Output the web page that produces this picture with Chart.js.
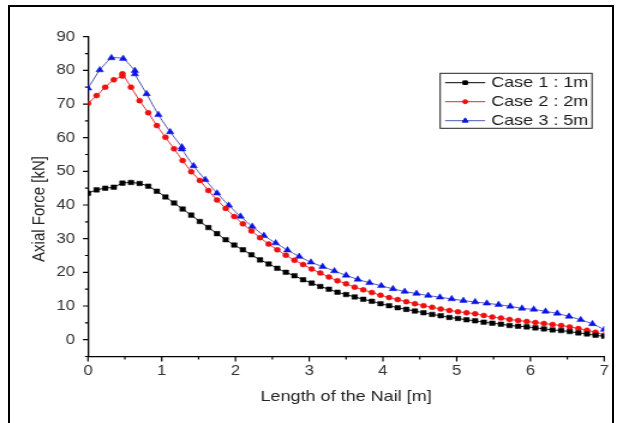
<!DOCTYPE html>
<html>
<head>
<meta charset="utf-8">
<title>Axial Force along the Nail</title>
<script src="https://cdn.jsdelivr.net/npm/chart.js@4.4.0/dist/chart.umd.min.js"></script>
<style>
  html, body { margin: 0; padding: 0; background: #fff; overflow: hidden; }
  /* the plot is laid out narrow and widened, so text and markers come out broad */
  #stage { position: absolute; left: 0; top: 0; width: 519px; height: 423px; transform: scaleX(1.2004); transform-origin: 0 0; }
  #frame { position: absolute; left: 8px; top: 5px; width: 602px; height: 440px; border: 2px solid #000; }
</style>
</head>
<body>
<div id="stage"><canvas id="chart"></canvas></div>
<div id="frame"></div>
<script>
const STRETCH = 1.2004;
const FONT = '"Liberation Sans", Arial, sans-serif';

// node positions along the nail [m]
const xFine = [0, 0.117, 0.233, 0.35, 0.467, 0.583, 0.7, 0.817, 0.933, 1.05, 1.167, 1.283, 1.4, 1.517, 1.633,
  1.75, 1.867, 1.983, 2.1, 2.217, 2.333, 2.45, 2.567, 2.683, 2.8, 2.917, 3.033, 3.15, 3.267, 3.383, 3.5,
  3.617, 3.733, 3.85, 3.967, 4.083, 4.2, 4.317, 4.433, 4.55, 4.667, 4.783, 4.9, 5.017, 5.133, 5.25, 5.367,
  5.483, 5.6, 5.717, 5.833, 5.95, 6.067, 6.183, 6.3, 6.417, 6.533, 6.65, 6.767, 6.883, 7];
// same grid, with the jump at 0.467 m
const xFineJump = [0, 0.117, 0.233, 0.35, 0.467, 0.467, 0.583, 0.7, 0.817, 0.933, 1.05, 1.167, 1.283, 1.4, 1.517, 1.633,
  1.75, 1.867, 1.983, 2.1, 2.217, 2.333, 2.45, 2.567, 2.683, 2.8, 2.917, 3.033, 3.15, 3.267, 3.383, 3.5,
  3.617, 3.733, 3.85, 3.967, 4.083, 4.2, 4.317, 4.433, 4.55, 4.667, 4.783, 4.9, 5.017, 5.133, 5.25, 5.367,
  5.483, 5.6, 5.717, 5.833, 5.95, 6.067, 6.183, 6.3, 6.417, 6.533, 6.65, 6.767, 6.883, 7];
// coarser grid for case 3, jumps at 0.636 m and 1.273 m
const xCoarse = [0, 0.159, 0.318, 0.477, 0.636, 0.636, 0.795, 0.955, 1.114, 1.273, 1.273, 1.432, 1.591, 1.75,
  1.909, 2.068, 2.227, 2.386, 2.545, 2.705, 2.864, 3.023, 3.182, 3.341, 3.5, 3.659, 3.818, 3.977, 4.136,
  4.295, 4.455, 4.614, 4.773, 4.932, 5.091, 5.25, 5.409, 5.568, 5.727, 5.886, 6.045, 6.205, 6.364, 6.523,
  6.682, 6.841, 7];

const seriesLabels = ['Case 1 : 1m', 'Case 2 : 2m', 'Case 3 : 5m'];

// axial force [kN]
const case1 = [43.5, 44.5, 45.0, 45.3, 46.5, 46.7, 46.4, 45.6, 44.1, 42.4, 40.6, 38.8, 37.0, 35.1, 33.3,
  31.5, 29.7, 28.1, 26.7, 25.2, 23.7, 22.5, 21.2, 20.0, 19.0, 17.8, 16.8, 15.8, 15.0, 14.1, 13.4,
  12.7, 12.0, 11.4, 10.7, 10.1, 9.5, 9.0, 8.5, 8.0, 7.5, 7.1, 6.6, 6.3, 5.9, 5.6, 5.2,
  4.9, 4.6, 4.2, 4.0, 3.8, 3.5, 3.2, 2.9, 2.7, 2.4, 2.0, 1.7, 1.3, 1.0];
const case2 = [70.2, 72.5, 75.0, 77.2, 78.3, 79.0, 75.0, 71.0, 67.4, 63.6, 60.1, 56.7, 53.2, 49.9, 47.3, 44.3,
  41.5, 39.0, 36.6, 34.4, 32.3, 30.3, 28.4, 26.7, 25.1, 23.6, 22.3, 21.0, 19.8, 18.6, 17.5, 16.6,
  15.6, 14.8, 14.0, 13.2, 12.5, 11.9, 11.3, 10.7, 10.1, 9.6, 9.1, 8.7, 8.3, 8.0, 7.7, 7.2,
  6.7, 6.4, 6.0, 5.7, 5.4, 5.1, 4.8, 4.5, 4.2, 3.8, 3.3, 2.8, 2.2, 1.4];
const case3 = [74.7, 80.1, 83.7, 83.5, 79.9, 78.9, 73.0, 66.8, 61.7, 57.2, 56.6, 51.6, 47.5, 43.5,
  39.9, 36.6, 33.6, 30.9, 28.7, 26.6, 24.7, 23.0, 21.7, 20.4, 19.1, 17.9, 16.9, 16.0, 15.1,
  14.3, 13.7, 13.1, 12.6, 12.1, 11.6, 11.2, 10.8, 10.4, 9.9, 9.3, 9.0, 8.4, 7.8, 6.9,
  5.9, 4.7, 3.0];

const yTitle = 'Axial Force [kN]';

const pair = (xs, ys) => xs.map((x, i) => ({ x: x, y: ys[i] }));

function series(label, points, lineColor, markColor, style, radius) {
    return {
        label: label,
        data: points,
        showLine: true,
        borderColor: lineColor,
        borderWidth: 1,
        tension: 0.15,
        pointStyle: style,
        pointRadius: radius,
        pointBackgroundColor: markColor,
        pointBorderColor: markColor,
        pointBorderWidth: 0.5
    };
}

// outward tick marks, long on labelled values and short in between
const tickMarks = {
    id: 'tickMarks',
    afterDraw(chart) {
        const { ctx, chartArea, scales } = chart;
        ctx.save();
        ctx.strokeStyle = '#000';
        ctx.lineWidth = 1.2;
        ctx.beginPath();
        scales.x.ticks.forEach(t => {
            const px = scales.x.getPixelForValue(t.value);
            const len = Number.isInteger(t.value) ? 5 : 3;
            ctx.moveTo(px, chartArea.bottom);
            ctx.lineTo(px, chartArea.bottom + len);
        });
        scales.y.ticks.forEach(t => {
            const py = scales.y.getPixelForValue(t.value);
            const len = (t.value % 10 === 0 ? 5 : 3) / STRETCH;
            ctx.moveTo(chartArea.left, py);
            ctx.lineTo(chartArea.left - len, py);
        });
        ctx.stroke();

        // vertical axis title, set a little below the middle of the axis
        ctx.translate(33.3, 209);
        ctx.rotate(-Math.PI / 2);
        ctx.fillStyle = '#222';
        ctx.font = '15px ' + FONT;
        ctx.textAlign = 'center';
        ctx.textBaseline = 'middle';
        ctx.fillText(yTitle, 0, 0);
        ctx.restore();
    }
};

// boxed legend sitting inside the plot, upper right
const boxLegend = {
    id: 'boxLegend',
    afterDraw(chart) {
        const ctx = chart.ctx;
        const left = 366.7, top = 73.3, right = 493.2, bottom = 128.3;
        const rows = [82.7, 101.7, 120.7];
        ctx.save();
        ctx.strokeStyle = '#222';
        ctx.lineWidth = 1;
        ctx.strokeRect(left, top, right - left, bottom - top);
        chart.data.datasets.forEach((ds, i) => {
            const y = rows[i];
            ctx.strokeStyle = ds.borderColor;
            ctx.lineWidth = 1;
            ctx.beginPath();
            ctx.moveTo(370.8, y);
            ctx.lineTo(404.2, y);
            ctx.stroke();
            ctx.fillStyle = ds.pointBackgroundColor;
            ctx.strokeStyle = ds.pointBorderColor;
            Chart.helpers.drawPoint(ctx, {
                pointStyle: ds.pointStyle, radius: ds.pointRadius * 0.8, rotation: 0, borderWidth: 0.5
            }, 387.5, y);
            ctx.fillStyle = '#1a1a1a';
            ctx.font = '15px ' + FONT;
            ctx.textBaseline = 'middle';
            ctx.textAlign = 'left';
            ctx.fillText(ds.label, 409.2, y + 0.5);
        });
        ctx.restore();
    }
};

new Chart(document.getElementById('chart'), {
    type: 'scatter',
    data: {
        datasets: [
            series(seriesLabels[0], pair(xFine, case1), '#000000', '#000000', 'rect', 3.2),
            series(seriesLabels[1], pair(xFineJump, case2), '#e8262a', '#ee1111', 'circle', 2.5),
            series(seriesLabels[2], pair(xCoarse, case3), '#4c58b4', '#0a14e6', 'triangle', 3.6)
        ]
    },
    options: {
        responsive: true,
        maintainAspectRatio: false,
        animation: false,
        layout: { padding: { top: 36.7, right: 15.7, left: 0, bottom: 0 } },
        plugins: {
            legend: { display: false },
            tooltip: { enabled: false }
        },
        scales: {
            x: {
                type: 'linear',
                min: 0,
                max: 7,
                grid: { display: false, drawTicks: false },
                border: { display: true, color: '#000', width: 1.3 },
                ticks: {
                    stepSize: 0.5,
                    autoSkip: false,
                    maxRotation: 0,
                    padding: 6,
                    color: '#333',
                    font: { family: FONT, size: 14 },
                    callback: v => Number.isInteger(v) ? String(v) : ''
                },
                title: {
                    display: true,
                    text: 'Length of the Nail [m]',
                    color: '#222',
                    font: { family: FONT, size: 15 },
                    padding: { top: 0, bottom: 17 }
                },
                afterFit(scale) { scale.height = 66.5; }
            },
            y: {
                type: 'linear',
                min: -5,
                max: 90,
                grid: { display: false, drawTicks: false },
                border: { display: true, color: '#000', width: 1.3 },
                ticks: {
                    stepSize: 5,
                    autoSkip: false,
                    padding: 10.8,
                    color: '#333',
                    font: { family: FONT, size: 14 },
                    callback: v => v % 10 === 0 ? String(v) : ''
                },
                afterFit(scale) { scale.width = 73.3; }
            }
        }
    },
    plugins: [tickMarks, boxLegend]
});
</script>
</body>
</html>
